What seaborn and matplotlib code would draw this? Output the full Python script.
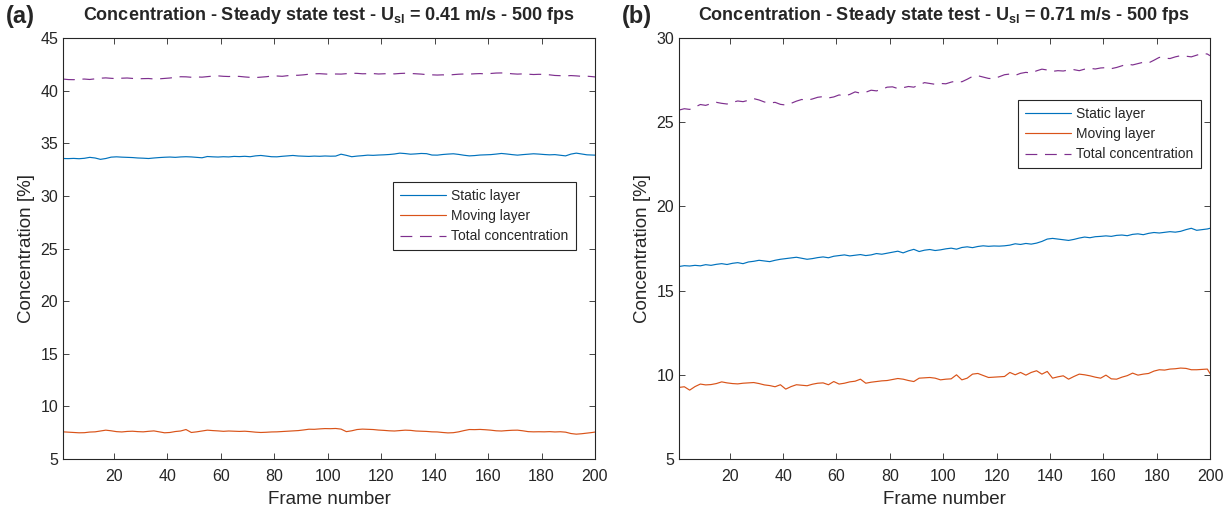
import numpy as np
import pandas as pd
import seaborn as sns
import matplotlib.pyplot as plt

# --- Data (frames 1, 3, ..., 199, 200) ---

frames = np.append(np.arange(1, 200, 2), 200)

# panel (a): U_sl = 0.41 m/s
static_a = [
    33.55, 33.54, 33.56, 33.53, 33.57, 33.66, 33.60, 33.47, 33.55, 33.68,
    33.71, 33.68, 33.66, 33.64, 33.60, 33.58, 33.55, 33.60, 33.64, 33.67,
    33.69, 33.66, 33.70, 33.72, 33.70, 33.66, 33.62, 33.74, 33.71, 33.69,
    33.72, 33.70, 33.75, 33.73, 33.76, 33.72, 33.80, 33.84, 33.78, 33.72,
    33.71, 33.76, 33.80, 33.84, 33.79, 33.77, 33.75, 33.78, 33.76, 33.79,
    33.77, 33.78, 33.96, 33.85, 33.72, 33.78, 33.82, 33.87, 33.85, 33.88,
    33.90, 33.93, 33.98, 34.06, 34.02, 33.96, 33.99, 34.03, 34.01, 33.88,
    33.87, 33.93, 33.97, 34.00, 33.94, 33.86, 33.80, 33.83, 33.88, 33.90,
    33.92, 33.97, 34.03, 33.98, 33.92, 33.87, 33.92, 33.96, 34.00, 33.97,
    33.93, 33.90, 33.92, 33.86, 33.80, 33.97, 34.06, 33.98, 33.90, 33.88,
    33.87]
moving_a = [
    7.58, 7.55, 7.52, 7.49, 7.50, 7.56, 7.58, 7.66, 7.74, 7.68,
    7.60, 7.57, 7.62, 7.64, 7.60, 7.58, 7.63, 7.67, 7.58, 7.49,
    7.52, 7.61, 7.66, 7.80, 7.52, 7.58, 7.66, 7.74, 7.70, 7.67,
    7.63, 7.66, 7.64, 7.62, 7.64, 7.60, 7.55, 7.52, 7.54, 7.57,
    7.58, 7.61, 7.64, 7.67, 7.70, 7.76, 7.83, 7.82, 7.86, 7.89,
    7.88, 7.90, 7.84, 7.60, 7.68, 7.80, 7.84, 7.82, 7.80, 7.75,
    7.72, 7.68, 7.66, 7.70, 7.74, 7.72, 7.66, 7.64, 7.62, 7.58,
    7.57, 7.52, 7.48, 7.50, 7.58, 7.70, 7.80, 7.79, 7.81, 7.78,
    7.74, 7.68, 7.66, 7.70, 7.73, 7.74, 7.68, 7.60, 7.58, 7.59,
    7.58, 7.60, 7.57, 7.59, 7.55, 7.42, 7.36, 7.40, 7.46, 7.52,
    7.56]
total_a = [
    41.10, 41.05, 41.04, 41.08, 41.10, 41.06, 41.12, 41.18, 41.21, 41.17,
    41.14, 41.18, 41.20, 41.16, 41.12, 41.14, 41.15, 41.11, 41.12, 41.16,
    41.20, 41.26, 41.32, 41.31, 41.27, 41.30, 41.28, 41.33, 41.38, 41.40,
    41.36, 41.34, 41.37, 41.35, 41.30, 41.26, 41.24, 41.28, 41.32, 41.38,
    41.39, 41.36, 41.42, 41.45, 41.46, 41.50, 41.56, 41.60, 41.61, 41.58,
    41.55, 41.58, 41.57, 41.61, 41.65, 41.64, 41.60, 41.61, 41.62, 41.58,
    41.60, 41.62, 41.59, 41.63, 41.65, 41.63, 41.60, 41.57, 41.52, 41.50,
    41.48, 41.50, 41.47, 41.52, 41.56, 41.58, 41.57, 41.60, 41.62, 41.59,
    41.63, 41.67, 41.68, 41.65, 41.60, 41.57, 41.59, 41.56, 41.53, 41.55,
    41.54, 41.50, 41.44, 41.42, 41.40, 41.43, 41.40, 41.36, 41.37, 41.33,
    41.30]

# panel (b): U_sl = 0.71 m/s
static_b = [
    16.43, 16.48, 16.46, 16.50, 16.47, 16.54, 16.50, 16.56, 16.60, 16.55,
    16.62, 16.66, 16.60, 16.70, 16.74, 16.80, 16.76, 16.72, 16.80, 16.86,
    16.90, 16.94, 16.98, 16.92, 16.86, 16.90, 16.96, 17.00, 16.95, 17.04,
    17.08, 17.12, 17.06, 17.10, 17.14, 17.08, 17.12, 17.20, 17.16, 17.22,
    17.28, 17.34, 17.24, 17.36, 17.45, 17.32, 17.40, 17.44, 17.38, 17.42,
    17.48, 17.52, 17.46, 17.56, 17.60, 17.55, 17.62, 17.66, 17.63, 17.65,
    17.64, 17.66, 17.70, 17.78, 17.74, 17.80, 17.76, 17.82, 17.92, 18.06,
    18.10, 18.06, 18.02, 17.98, 18.04, 18.12, 18.18, 18.14, 18.20, 18.22,
    18.25, 18.22, 18.28, 18.30, 18.26, 18.34, 18.37, 18.32, 18.40, 18.45,
    18.42, 18.46, 18.50, 18.47, 18.52, 18.62, 18.70, 18.58, 18.62, 18.66,
    18.70]
moving_b = [
    9.25, 9.29, 9.09, 9.30, 9.45, 9.40, 9.42, 9.48, 9.58, 9.52,
    9.48, 9.46, 9.50, 9.52, 9.54, 9.48, 9.40, 9.36, 9.29, 9.41,
    9.15, 9.30, 9.41, 9.38, 9.35, 9.44, 9.50, 9.52, 9.41, 9.60,
    9.45, 9.50, 9.58, 9.62, 9.74, 9.50, 9.56, 9.60, 9.64, 9.66,
    9.72, 9.78, 9.74, 9.66, 9.60, 9.80, 9.82, 9.84, 9.80, 9.70,
    9.74, 9.76, 10.00, 9.70, 9.80, 10.04, 10.08, 9.96, 9.84, 9.86,
    9.88, 9.90, 10.14, 10.00, 10.14, 9.98, 10.14, 10.24, 10.04, 10.20,
    9.80, 9.88, 9.94, 9.74, 9.90, 10.04, 10.00, 9.94, 9.86, 9.80,
    9.98, 9.76, 9.74, 9.86, 9.95, 10.10, 9.98, 10.04, 10.08, 10.22,
    10.30, 10.28, 10.34, 10.36, 10.40, 10.38, 10.30, 10.30, 10.32, 10.34,
    10.08]
total_b = [
    25.72, 25.80, 25.76, 25.90, 26.05, 26.00, 26.10, 26.18, 26.12, 26.08,
    26.18, 26.26, 26.22, 26.30, 26.40, 26.32, 26.20, 26.14, 26.18, 26.06,
    26.02, 26.12, 26.25, 26.35, 26.30, 26.38, 26.48, 26.52, 26.44, 26.50,
    26.62, 26.55, 26.65, 26.80, 26.72, 26.78, 26.90, 26.86, 26.95, 27.08,
    27.10, 27.00, 27.05, 27.12, 27.08, 27.22, 27.35, 27.30, 27.25, 27.30,
    27.28, 27.38, 27.45, 27.40, 27.55, 27.72, 27.76, 27.68, 27.60, 27.58,
    27.70, 27.82, 27.86, 27.78, 27.90, 27.96, 27.92, 28.05, 28.15, 28.10,
    28.02, 28.06, 28.04, 28.10, 28.12, 28.06, 28.15, 28.20, 28.16, 28.22,
    28.24, 28.18, 28.25, 28.35, 28.45, 28.40, 28.48, 28.56, 28.52, 28.68,
    28.85, 28.80, 28.78, 28.88, 28.95, 28.92, 28.88, 28.98, 29.08, 29.05,
    28.95]

labels = ['Static layer', 'Moving layer', 'Total concentration']
colors = ['#0072BD', '#D95319', '#7E2F8E']
x_ticks = list(range(20, 201, 20))

# --- Style ---

sns.set_theme(style='white')
plt.rcParams['font.family'] = ['Liberation Sans', 'DejaVu Sans']
plt.rcParams['mathtext.fontset'] = 'custom'
plt.rcParams['mathtext.rm'] = 'Liberation Sans'
plt.rcParams['mathtext.bf'] = 'Liberation Sans:bold'
plt.rcParams['axes.edgecolor'] = '#262626'
plt.rcParams['axes.linewidth'] = 0.8
plt.rcParams['xtick.direction'] = 'in'
plt.rcParams['ytick.direction'] = 'in'


def panel(ax, series, ylim, title, legend_pos):
  for vals, lab, col in zip(series, labels, colors):
    df = pd.DataFrame({'frame': frames, 'c': vals})
    sns.lineplot(data=df, x='frame', y='c', ax=ax, color=col, linewidth=0.85,
                 label=lab)
    if lab.startswith('Total'):
      ax.lines[-1].set_dashes((10, 6.5))
  ax.set_xlim(1, 200)
  ax.set_ylim(*ylim)
  ax.set_xticks(x_ticks)
  ax.set_yticks(range(ylim[0], ylim[1] + 1, 5))
  ax.tick_params(axis='both', which='both', top=True, right=True,
                 bottom=True, left=True, length=4, width=0.6,
                 color='#262626', labelcolor='#262626', labelsize=11.5)
  ax.tick_params(axis='x', pad=7)
  ax.set_xlabel('Frame number', fontsize=13.5, color='#262626', labelpad=5)
  ax.set_ylabel('Concentration [%]', fontsize=13.5, color='#262626', labelpad=4)
  ax.set_title(title, fontsize=13, fontweight='bold', pad=13)
  leg = ax.legend(loc='upper left', bbox_to_anchor=legend_pos, frameon=True,
                  fancybox=False, framealpha=1, edgecolor='#262626',
                  fontsize=10, handlelength=3.3, borderpad=0.5,
                  labelspacing=0.45, handletextpad=0.4, borderaxespad=0)
  leg.get_frame().set_linewidth(0.8)


fig = plt.figure(figsize=(12.31, 5.14), dpi=100)
ax_a = fig.add_axes([63 / 1231, 55 / 514, 532 / 1231, 421 / 514])
ax_b = fig.add_axes([679 / 1231, 55 / 514, 531 / 1231, 421 / 514])

panel(ax_a, [static_a, moving_a, total_a], (5, 45),
      r'Concentration - Steady state test - $\mathbf{U_{sl}}$ = 0.41 m/s - 500 fps',
      (330 / 532, 1 - 144 / 421))
panel(ax_b, [static_b, moving_b, total_b], (5, 30),
      r'Concentration - Steady state test - $\mathbf{U_{sl}}$ = 0.71 m/s - 500 fps',
      (339 / 531, 1 - 62 / 421))

fig.text(6 / 1231, 1 - 17 / 514, '(a)', fontsize=17, fontweight='bold', va='center')
fig.text(622 / 1231, 1 - 17 / 514, '(b)', fontsize=17, fontweight='bold', va='center')

fig.savefig('out.png', dpi=100)
